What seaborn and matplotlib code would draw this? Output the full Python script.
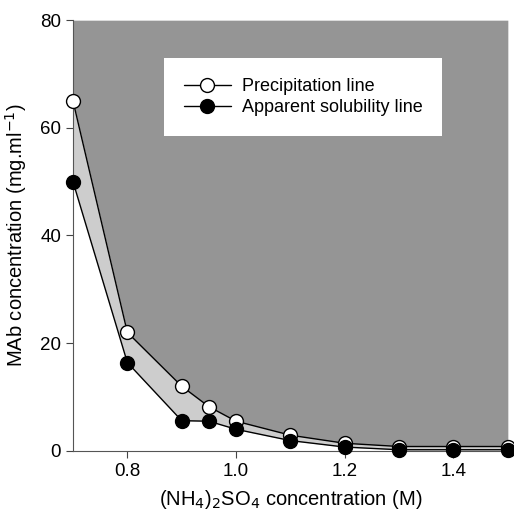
import pandas as pd
import seaborn as sns
import matplotlib.pyplot as plt

# (NH4)2SO4 concentration (M) and MAb concentration (mg/ml)
conc = [0.7, 0.8, 0.9, 0.95, 1.0, 1.1, 1.2, 1.3, 1.4, 1.5]
precipitation = [65, 22, 12, 8.2, 5.5, 2.9, 1.4, 0.8, 0.8, 0.8]
solubility = [50, 16.4, 5.6, 5.5, 4.0, 1.9, 0.7, 0.2, 0.2, 0.2]

df = pd.DataFrame({'conc': conc, 'precip': precipitation, 'sol': solubility})

sns.set_style('ticks')
plt.rcParams['font.family'] = ['Liberation Sans', 'DejaVu Sans']
plt.rcParams['text.color'] = 'black'
plt.rcParams['axes.labelcolor'] = 'black'
plt.rcParams['xtick.color'] = '#444444'
plt.rcParams['ytick.color'] = '#444444'

fig = plt.figure(figsize=(5.14, 5.17), dpi=100)
ax = fig.add_axes([0.142, 0.128, 0.846, 0.833])

ax.fill_between(df['conc'], df['precip'], 80, color='#959595', lw=0, zorder=0)
ax.fill_between(df['conc'], df['sol'], df['precip'], color='#cdcdcd', lw=0, zorder=0)

sns.lineplot(data=df, x='conc', y='precip', ax=ax, color='black', lw=1,
             marker='o', markersize=10, markerfacecolor='white',
             markeredgecolor='black', markeredgewidth=1,
             label='Precipitation line', clip_on=False, zorder=3)
sns.lineplot(data=df, x='conc', y='sol', ax=ax, color='black', lw=1,
             marker='o', markersize=10, markerfacecolor='black',
             markeredgecolor='black', markeredgewidth=1,
             label='Apparent solubility line', clip_on=False, zorder=4)

ax.set_xlim(0.7, 1.5)
ax.set_ylim(0, 80)
ax.set_xticks([0.8, 1.0, 1.2, 1.4])
ax.set_xticklabels(['0.8', '1.0', '1.2', '1.4'])
ax.set_yticks([0, 20, 40, 60, 80])
ax.tick_params(labelsize=13.5, length=5, width=0.8, labelcolor='black')
for s in ['top', 'right']:
    ax.spines[s].set_visible(False)
for s in ['left', 'bottom']:
    ax.spines[s].set_color('#555555')
    ax.spines[s].set_linewidth(0.8)

ax.set_xlabel(r'(NH$_4$)$_2$SO$_4$ concentration (M)', fontsize=14.5, labelpad=6)
ax.set_ylabel(r'MAb concentration (mg.ml$^{-1}$)', fontsize=14.5, labelpad=8)

leg = ax.legend(loc='upper left', bbox_to_anchor=(0.209, 0.912), fontsize=13,
                frameon=True, fancybox=False, framealpha=1, edgecolor='white',
                borderpad=1.1, borderaxespad=0, handlelength=2.6,
                labelspacing=0.25, handletextpad=0.6)
leg.get_frame().set_linewidth(0)

fig.savefig('out.png', dpi=100)
